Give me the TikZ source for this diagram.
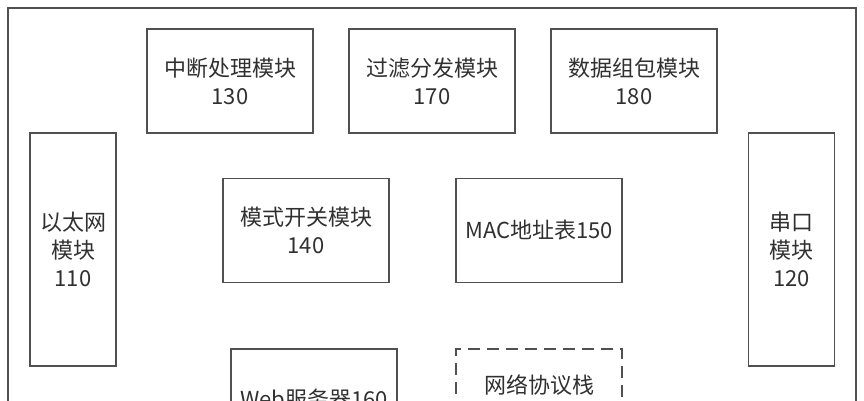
\documentclass[tikz,border=0pt]{standalone}
\usepackage{fontspec}
\setmainfont{Noto Sans CJK SC}
\definecolor{linegray}{HTML}{505050}
\definecolor{textgray}{HTML}{303030}
\begin{document}
\begin{tikzpicture}[x=1pt,y=-1pt,
    modbox/.style={draw=linegray, line width=1.2pt, minimum width=166pt, minimum height=104pt,
      inner sep=0pt, align=center, text=textgray, font=\fontsize{22}{28}\selectfont},
    tallbox/.style={modbox, minimum width=86pt, minimum height=233pt}]
            % page size and clipping
            \useasboundingbox (0, 0) rectangle (864, 400);
            \clip (0, 0) rectangle (864, 400);
            % outer frame
            \draw [linegray, line width=1.2pt] (8, 8) rectangle (856, 470);
            % top row
            \node (ints) at (230, 81) [modbox] {中断处理模块\\130};
            \node (filt) at (432, 81) [modbox] {过滤分发模块\\170};
            \node (pack) at (634, 81) [modbox] {数据组包模块\\180};
            % side modules
            \node (eth) at (73, 249.5) [tallbox] {以太网\\模块\\110};
            \node (uart) at (791.5, 249.5) [tallbox] {串口\\模块\\120};
            % middle row
            \node (mode) at (306, 230.5) [modbox] {模式开关模块\\140};
            \node (mac) at (539, 230.5) [modbox] {MAC地址表150};
            % bottom row
            \node (web) at (314, 399) [modbox, minimum height=100pt] {Web服务器160};
            \node (stack) at (539, 385) [modbox, minimum height=72pt, dash pattern=on 12pt off 7pt] {网络协议栈};
        \end{tikzpicture}
\end{document}
